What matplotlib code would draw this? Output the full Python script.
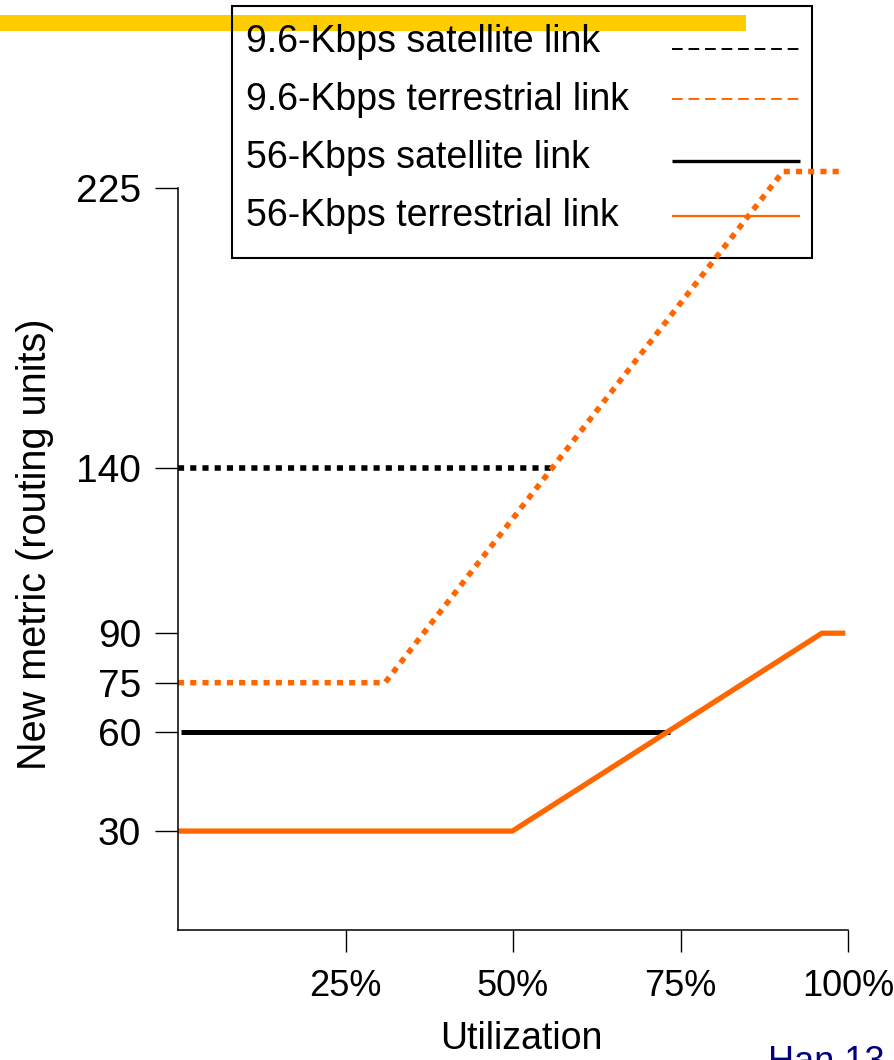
import matplotlib.pyplot as plt
from matplotlib.patches import Rectangle

plt.rcParams['font.family'] = ['Liberation Sans', 'DejaVu Sans']

# utilization (%) / metric values
sat96_x = [0, 56.3]
sat96_y = [140, 140]
ter96_x = [0, 30.9, 90.3, 99.3]
ter96_y = [75, 75, 230, 230]
sat56_x = [0.5, 73.4]
sat56_y = [60, 60]
ter56_x = [0, 49.9, 96.1, 99.6]
ter56_y = [30, 30, 90, 90]

yticks = [30, 60, 75, 90, 140, 225]
xticks = [25, 50, 75, 100]
xticklabels = ['25%', '50%', '75%', '100%']

labels = ['9.6-Kbps satellite link', '9.6-Kbps terrestrial link',
          '56-Kbps satellite link', '56-Kbps terrestrial link']

orange = '#FF6600'
W, H = 894, 1060
fig = plt.figure(figsize=(W / 100, H / 100), dpi=100)

# decoration layer in pixel coordinates
deco = fig.add_axes([0, 0, 1, 1], zorder=0)
deco.set_xlim(0, W)
deco.set_ylim(H, 0)
deco.axis('off')
deco.add_patch(Rectangle((0, 15), 746, 16, color='#FFCC00', lw=0))
deco.add_patch(Rectangle((232, 6), 580, 252, fill=False, ec='black', lw=1.5))

# hand made legend: text left, sample line right
leg_y = [52, 110, 168, 226]
line_y = [49, 99, 161, 216]
styles = [dict(color='black', lw=1.4, ls=(0, (5.5, 3))),
          dict(color=orange, lw=1.4, ls=(0, (5.5, 3))),
          dict(color='black', lw=2.4, ls='-'),
          dict(color=orange, lw=1.6, ls='-')]
for i in range(4):
    deco.text(246, leg_y[i], labels[i], fontsize=27, va='baseline', ha='left')
    deco.plot([672, 800], [line_y[i], line_y[i]], solid_capstyle='butt',
              dash_capstyle='butt', **styles[i])

deco.text(768, 1072, 'Han 13', fontsize=26, color='#000080', va='baseline')

# main plot
ax = fig.add_axes([178 / W, (H - 930) / H, 670 / W, 742 / H], zorder=1)
ax.patch.set_visible(False)
ax.set_xlim(0, 100)
ax.set_ylim(0, 225)

dot = (0, (1.1, 1.1))
ax.plot(sat96_x, sat96_y, color='black', lw=4, ls=dot, dash_capstyle='butt', clip_on=False)
ax.plot(ter96_x, ter96_y, color=orange, lw=4, ls=dot, dash_capstyle='butt', clip_on=False)
ax.plot(sat56_x, sat56_y, color='black', lw=3.6, solid_capstyle='butt', clip_on=False)
ax.plot(ter56_x, ter56_y, color=orange, lw=3.8, solid_capstyle='butt', clip_on=False)

for s in ['top', 'right']:
    ax.spines[s].set_visible(False)
ax.spines['left'].set_linewidth(1.1)
ax.spines['bottom'].set_linewidth(1.1)

ax.set_yticks(yticks)
ax.set_yticklabels([str(v) for v in yticks])
ax.set_xticks(xticks)
ax.set_xticklabels(xticklabels)
ax.tick_params(axis='y', direction='out', length=16.5, width=1, pad=10, labelsize=28)
ax.tick_params(axis='x', direction='out', length=16, width=1, pad=12, labelsize=26)

fig.text(35 / W, 1 - 544 / H, 'New metric (routing units)', rotation=90,
         fontsize=28.5, ha='center', va='center')
fig.text(521 / W, 1 - 1049 / H, 'Utilization', fontsize=27, ha='center', va='baseline')

plt.savefig('out.png')
